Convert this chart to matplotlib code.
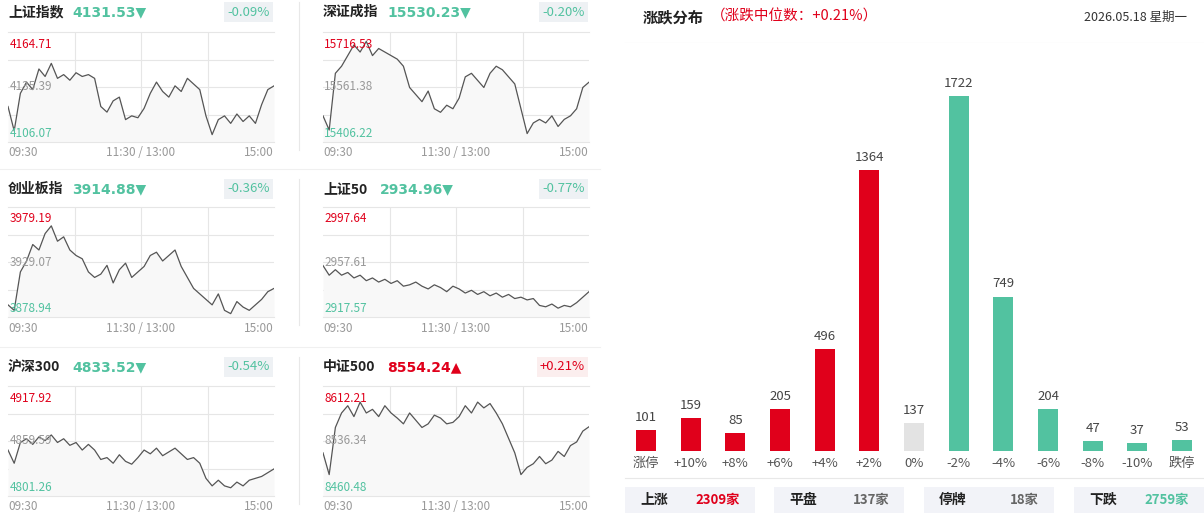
import numpy as np
import matplotlib
matplotlib.use("Agg")
import matplotlib.pyplot as plt

plt.rcParams['font.family'] = ['Noto Sans CJK SC', 'DejaVu Sans']

RED = '#e0001b'
GREEN = '#52c2a0'
GRAY = '#999999'

# ---- index panels ----
names = ['上证指数', '深证成指', '创业板指', '上证50', '沪深300', '中证500']
prices = ['4131.53', '15530.23', '3914.88', '2934.96', '4833.52', '8554.24']
changes = ['-0.09%', '-0.20%', '-0.36%', '-0.77%', '-0.54%', '+0.21%']
highs = [4164.71, 15716.53, 3979.19, 2997.64, 4917.92, 8612.21]
mids = [4135.39, 15561.38, 3929.07, 2957.61, 4859.59, 8536.34]
lows = [4106.07, 15406.22, 3878.94, 2917.57, 4801.26, 8460.48]

sh = [4125, 4112, 4132, 4138, 4134, 4145, 4141, 4148, 4140, 4142, 4139, 4143, 4141, 4142, 4140,
      4125, 4122, 4128, 4130, 4118, 4120, 4119, 4124, 4132, 4138, 4133, 4130, 4136, 4133, 4140,
      4137, 4134, 4120, 4110, 4118, 4120, 4116, 4121, 4117, 4120, 4116, 4126, 4134, 4136]
sz = [15480, 15440, 15600, 15620, 15650, 15680, 15660, 15690, 15650, 15670, 15660, 15650, 15640, 15620, 15560,
      15540, 15520, 15550, 15500, 15490, 15510, 15500, 15530, 15590, 15600, 15580, 15560, 15600, 15620, 15610,
      15590, 15570, 15500, 15430, 15460, 15470, 15460, 15480, 15450, 15470, 15480, 15500, 15560, 15575]
cy = [3890, 3885, 3920, 3930, 3945, 3940, 3955, 3962, 3948, 3952, 3940, 3935, 3932, 3920, 3915,
      3918, 3926, 3910, 3922, 3928, 3915, 3920, 3925, 3935, 3938, 3930, 3935, 3940, 3925, 3915,
      3905, 3900, 3895, 3890, 3900, 3885, 3882, 3893, 3888, 3885, 3890, 3895, 3902, 3905]
sz50 = [2955, 2948, 2952, 2948, 2950, 2946, 2948, 2944, 2946, 2943, 2945, 2942, 2944, 2940, 2941,
        2943, 2940, 2938, 2941, 2939, 2936, 2940, 2938, 2935, 2937, 2934, 2936, 2933, 2935, 2932,
        2934, 2931, 2932, 2930, 2931, 2926, 2925, 2927, 2924, 2926, 2925, 2928, 2932, 2936]
hs300 = [4850, 4836, 4858, 4862, 4856, 4864, 4860, 4866, 4858, 4862, 4855, 4858, 4850, 4856, 4850,
         4840, 4842, 4836, 4845, 4838, 4835, 4842, 4850, 4846, 4852, 4844, 4848, 4852, 4846, 4840,
         4842, 4836, 4820, 4812, 4818, 4812, 4810, 4816, 4812, 4818, 4820, 4822, 4826, 4830]
zz500 = [8520, 8490, 8555, 8575, 8585, 8570, 8590, 8575, 8580, 8570, 8585, 8575, 8568, 8560, 8575,
         8565, 8555, 8560, 8572, 8568, 8560, 8562, 8570, 8585, 8575, 8590, 8582, 8588, 8575, 8560,
         8540, 8520, 8490, 8500, 8505, 8515, 8505, 8510, 8522, 8515, 8530, 8535, 8550, 8556]
series = [sh, sz, cy, sz50, hs300, zz500]

W, H = 1204, 515
fig = plt.figure(figsize=(W / 100, H / 100), dpi=100)


def px(x, y, w, h):
    return [x / W, 1 - (y + h) / H, w / W, h / H]


# full-figure overlay for text in pixel coords
bg = fig.add_axes([0, 0, 1, 1])
bg.set_xlim(0, W)
bg.set_ylim(H, 0)
bg.axis('off')

col_x = [8, 323]
row_top = [32, 207, 386]
row_title = [12, 189, 367]
for i in range(6):
    r, c = divmod(i, 2)
    x0, y0 = col_x[c], row_top[r]
    cw, ch = 266, 110
    ax = fig.add_axes(px(x0, y0, cw, ch))
    vals = series[i]
    t = np.linspace(0, 240, len(vals))
    ax.fill_between(t, vals, lows[i], color='#f8f8f8', lw=0)
    ax.plot(t, vals, color='#555555', lw=0.9)
    ax.set_xlim(0, 240)
    ax.set_ylim(lows[i], highs[i])
    step = (highs[i] - lows[i]) / 4
    for k in range(1, 4):
        ax.axhline(lows[i] + k * step, color='#e6e6e6', lw=0.8, zorder=0)
    for v in (60, 120, 180):
        ax.axvline(v, color='#e6e6e6', lw=0.8, zorder=0)
    ax.set_xticks([])
    ax.set_yticks([])
    for s in ax.spines.values():
        s.set_visible(False)
    ax.spines['top'].set_visible(True)
    ax.spines['top'].set_color('#e6e6e6')
    ax.spines['bottom'].set_visible(True)
    ax.spines['bottom'].set_color('#e6e6e6')
    ax.text(0.005, 0.95, f'{highs[i]:.2f}', transform=ax.transAxes, color=RED, fontsize=8.5, va='top')
    ax.text(0.005, 0.5, f'{mids[i]:.2f}', transform=ax.transAxes, color=GRAY, fontsize=8.5, va='center')
    ax.text(0.005, 0.02, f'{lows[i]:.2f}', transform=ax.transAxes, color=GREEN, fontsize=8.5, va='bottom')

    ty = row_title[r]
    up = changes[i].startswith('+')
    col = RED if up else GREEN
    bg.text(x0, ty, names[i], fontsize=10, fontweight='bold', color='#222222', va='center')
    off = 57 if names[i] == '上证50' else 64
    bg.text(x0 + off, ty, prices[i] + ('▲' if up else '▼'),
            fontsize=10, fontweight='bold', color=col, va='center',
            family=['DejaVu Sans'])
    bg.text(x0 + cw - 4, ty, changes[i], fontsize=9.5, color=col, va='center', ha='right',
            bbox=dict(boxstyle='square,pad=0.25', fc='#fbeeee' if up else '#eef1f4', ec='none'))
    tl = y0 + ch + 11
    bg.text(x0, tl, '09:30', fontsize=8.5, color=GRAY, va='center')
    bg.text(x0 + cw / 2, tl, '11:30 / 13:00', fontsize=8.5, color=GRAY, va='center', ha='center')
    bg.text(x0 + cw, tl, '15:00', fontsize=8.5, color=GRAY, va='center', ha='right')

for r in range(3):
    bg.plot([299, 299], [row_title[r] - 10, row_top[r] + 118], color='#e8e8e8', lw=0.8)
for yy in (169, 347):
    bg.plot([0, 600], [yy, yy], color='#f0f0f0', lw=0.8)

# ---- distribution ----
cats = ['涨停', '+10%', '+8%', '+6%', '+4%', '+2%', '0%', '-2%', '-4%', '-6%', '-8%', '-10%', '跌停']
counts = [101, 159, 85, 205, 496, 1364, 137, 1722, 749, 204, 47, 37, 53]
colors = [RED] * 6 + ['#e3e3e3'] + [GREEN] * 6
summary_labels = ['上涨', '平盘', '停牌', '下跌']
summary_values = ['2309家', '137家', '18家', '2759家']
summary_colors = [RED, '#666666', '#666666', GREEN]

bx = fig.add_axes(px(624, 43, 580, 408))
xi = np.arange(len(cats))
bx.bar(xi, counts, width=0.45, color=colors)
for k, v in zip(xi, counts):
    bx.text(k, v + 30, str(v), ha='center', va='bottom', fontsize=9.5, color='#444444')
bx.set_xlim(-0.49, 12.49)
bx.set_ylim(0, 1979)
bx.set_yticks([])
bx.set_xticks(xi)
bx.set_xticklabels(cats, fontsize=9.5, color='#555555')
bx.tick_params(axis='x', length=0, pad=4)
for s in bx.spines.values():
    s.set_visible(False)

bg.text(643, 17, '涨跌分布', fontsize=11, fontweight='bold', color='#222222', va='center')
bg.text(711, 17, '（涨跌中位数：+0.21%）', fontsize=10.5, color=RED, va='center')
bg.text(1187, 17, '2026.05.18 星期一', fontsize=9, color='#333333', va='center', ha='right')
bg.plot([625, 1204], [43, 43], color='#e8e8e8', lw=0.8)
bg.plot([625, 1204], [478, 478], color='#e8e8e8', lw=0.8)

box_x = [625, 774, 924, 1074]
for bxx, lab, val, vc in zip(box_x, summary_labels, summary_values, summary_colors):
    bg.add_patch(plt.Rectangle((bxx, 487), 130, 26, color='#f2f3f8', lw=0))
    bg.text(bxx + 15, 500, lab, fontsize=10, fontweight='bold', color='#222222', va='center')
    bg.text(bxx + 115, 500, val, fontsize=9.5, fontweight='bold', color=vc, va='center', ha='right')

fig.savefig('out.png', dpi=100)
